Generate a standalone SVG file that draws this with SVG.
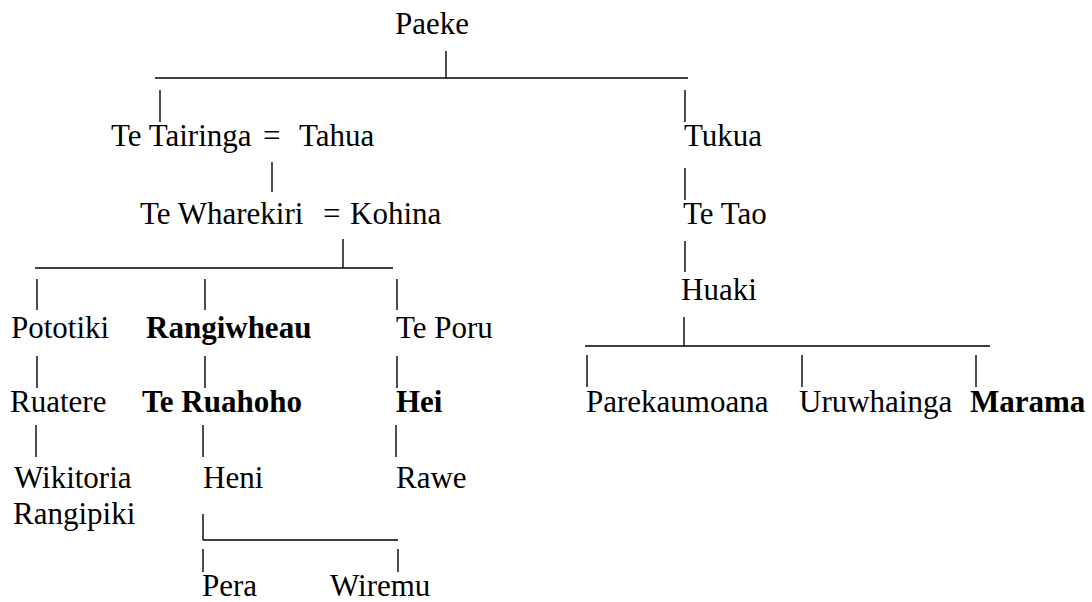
<svg xmlns="http://www.w3.org/2000/svg" width="1092" height="602" viewBox="0 0 1092 602">
<style>
text{font-family:"Liberation Serif","Times New Roman",serif;font-size:31px;fill:#000}
.b{font-weight:bold}
#connectors line{stroke:#000;stroke-width:1.4}
</style>
<rect width="1092" height="602" fill="#fff"/>
<g id="connectors">
<line x1="446" y1="51" x2="446" y2="78"/>
<line x1="155" y1="78" x2="688" y2="78"/>
<line x1="160" y1="90" x2="160" y2="122"/>
<line x1="685" y1="90" x2="685" y2="122"/>
<line x1="272" y1="162" x2="272" y2="192"/>
<line x1="343" y1="239" x2="343" y2="268"/>
<line x1="35" y1="268" x2="393" y2="268"/>
<line x1="37" y1="279" x2="37" y2="310"/>
<line x1="205" y1="279" x2="205" y2="310"/>
<line x1="397" y1="279" x2="397" y2="310"/>
<line x1="37" y1="356" x2="37" y2="388"/>
<line x1="205" y1="356" x2="205" y2="388"/>
<line x1="397" y1="356" x2="397" y2="388"/>
<line x1="36" y1="425" x2="36" y2="457"/>
<line x1="203" y1="425" x2="203" y2="457"/>
<line x1="396" y1="425" x2="396" y2="457"/>
<line x1="203" y1="514" x2="203" y2="540"/>
<line x1="203" y1="540" x2="398" y2="540"/>
<line x1="203" y1="549" x2="203" y2="572"/>
<line x1="398" y1="549" x2="398" y2="572"/>
<line x1="685" y1="168" x2="685" y2="200"/>
<line x1="685" y1="241" x2="685" y2="272"/>
<line x1="684" y1="317" x2="684" y2="346"/>
<line x1="585" y1="346" x2="990" y2="346"/>
<line x1="587" y1="355" x2="587" y2="387"/>
<line x1="802" y1="355" x2="802" y2="387"/>
<line x1="976" y1="355" x2="976" y2="387"/>
</g>
<g id="n-paeke"><text x="395" y="34">Paeke</text></g>
<g id="n-tetairinga-tahua"><text y="146"><tspan x="111">Te Tairinga</tspan><tspan x="263">=</tspan><tspan x="299">Tahua</tspan></text></g>
<g id="n-tewharekiri-kohina"><text y="224"><tspan x="140">Te Wharekiri</tspan><tspan x="323">=</tspan><tspan x="350">Kohina</tspan></text></g>
<g id="n-pototiki"><text x="11" y="338">Pototiki</text></g>
<g id="n-rangiwheau"><text class="b" x="146" y="338">Rangiwheau</text></g>
<g id="n-teporu"><text x="396" y="338">Te Poru</text></g>
<g id="n-ruatere"><text x="10" y="412">Ruatere</text></g>
<g id="n-teruahoho"><text class="b" x="142" y="412">Te Ruahoho</text></g>
<g id="n-hei"><text class="b" x="396" y="412">Hei</text></g>
<g id="n-wikitoria"><text x="14" y="488">Wikitoria</text><text x="13" y="524">Rangipiki</text></g>
<g id="n-heni"><text x="203" y="488">Heni</text></g>
<g id="n-rawe"><text x="396" y="488">Rawe</text></g>
<g id="n-pera"><text x="202" y="596">Pera</text></g>
<g id="n-wiremu"><text x="330" y="596">Wiremu</text></g>
<g id="n-tukua"><text x="684" y="146">Tukua</text></g>
<g id="n-tetao"><text x="683" y="224">Te Tao</text></g>
<g id="n-huaki"><text x="681" y="300">Huaki</text></g>
<g id="n-parekaumoana"><text x="586" y="412">Parekaumoana</text></g>
<g id="n-uruwhainga"><text x="799" y="412">Uruwhainga</text></g>
<g id="n-marama"><text class="b" x="970" y="412">Marama</text></g>
</svg>
